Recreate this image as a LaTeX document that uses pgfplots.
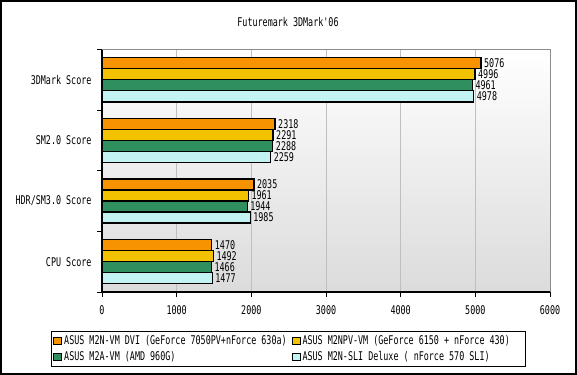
\documentclass[border=0pt]{standalone}
\usepackage{pgfplots}
\pgfplotsset{compat=1.18}
\usepackage{fontspec}
\newfontfamily\chartfont[FakeStretch=0.7]{DejaVu Sans Mono}
\newcommand\cf{\chartfont\fontsize{12bp}{13bp}\selectfont}
\definecolor{cOr}{HTML}{F79200}
\definecolor{cYe}{HTML}{F2C200}
\definecolor{cGr}{HTML}{2F8F5F}
\definecolor{cCy}{HTML}{C2F2F2}
\begin{document}
\begin{tikzpicture}
\path[use as bounding box] (0,0) rectangle (577bp,375bp);
\fill[white] (0,0) rectangle (577bp,375bp);
\draw[line width=1.5bp] (1bp,1bp) rectangle (576bp,374bp);
\node[font=\cf] at (288bp,353bp) {Futuremark 3DMark'06};
\begin{axis}[
  at={(102bp,83bp)}, anchor=south west,
  width=448bp, height=242.5bp, scale only axis,
  xbar, bar width=0.1818,
  xmin=0, xmax=6000, ymin=-0.5, ymax=3.5,
  xtick={0,1000,2000,3000,4000,5000,6000},
  ytick={0,1,2,3},
  yticklabels={CPU Score, HDR/SM3.0 Score, SM2.0 Score, 3DMark Score},
  ytick style={draw=none},
  tick align=outside, major tick length=5bp,
  xtick style={black, line width=1bp},
  axis x line*=bottom, axis y line*=left,
  axis line style={line width=1.5bp, black},
  xmajorgrids, major grid style={black!25, line width=0.8bp},
  axis background/.style={top color=white, bottom color=black!14},
  /pgf/number format/.cd, 1000 sep={}, assume math mode=true, /pgfplots/.cd,
  tick label style={font=\cf},
  xticklabel style={yshift=-5bp},
  yticklabel style={xshift=-2bp},
  nodes near coords,
  nodes near coords style={font=\cf, anchor=west, inner sep=2.5bp},
  legend columns=2,
  legend cell align=left,
  legend style={at={(-0.1138,-0.1608)}, anchor=north west, draw=black, line width=0.8bp,
    font=\cf, inner sep=2bp, row sep=1.5bp,
    /tikz/every even column/.append style={column sep=3bp}},
  legend image code/.code={\draw[#1, draw=black, line width=0.8bp] (0bp,-3.5bp) rectangle (8bp,3.5bp);},
  clip=false,
  after end axis/.code={
    \draw[black!45, line width=1bp] (rel axis cs:0,1) -- (rel axis cs:1,1) -- (rel axis cs:1,0);
    \foreach \yy in {-0.5,0.5,1.5,2.5,3.5} {\draw[line width=1bp] (axis cs:0,\yy) -- ++(-5bp,0);}
  },
]
\addplot[draw=black, line width=1.3bp, fill=cOr, bar shift=0.2727]
  coordinates {(1470,0) (2035,1) (2318,2) (5076,3)};
\addlegendentry{ASUS M2N-VM DVI (GeForce 7050PV+nForce 630a)}
\addplot[draw=black, line width=1.3bp, fill=cYe, bar shift=0.0909]
  coordinates {(1492,0) (1961,1) (2291,2) (4996,3)};
\addlegendentry{ASUS M2NPV-VM (GeForce 6150 + nForce 430)\makebox[12bp]{}}
\addplot[draw=black, line width=1.3bp, fill=cGr, bar shift=-0.0909]
  coordinates {(1466,0) (1944,1) (2288,2) (4961,3)};
\addlegendentry{ASUS M2A-VM (AMD 960G)}
\addplot[draw=black, line width=1.3bp, fill=cCy, bar shift=-0.2727]
  coordinates {(1477,0) (1985,1) (2259,2) (4978,3)};
\addlegendentry{ASUS M2N-SLI Deluxe ( nForce 570 SLI)}
\end{axis}
\end{tikzpicture}
\end{document}
